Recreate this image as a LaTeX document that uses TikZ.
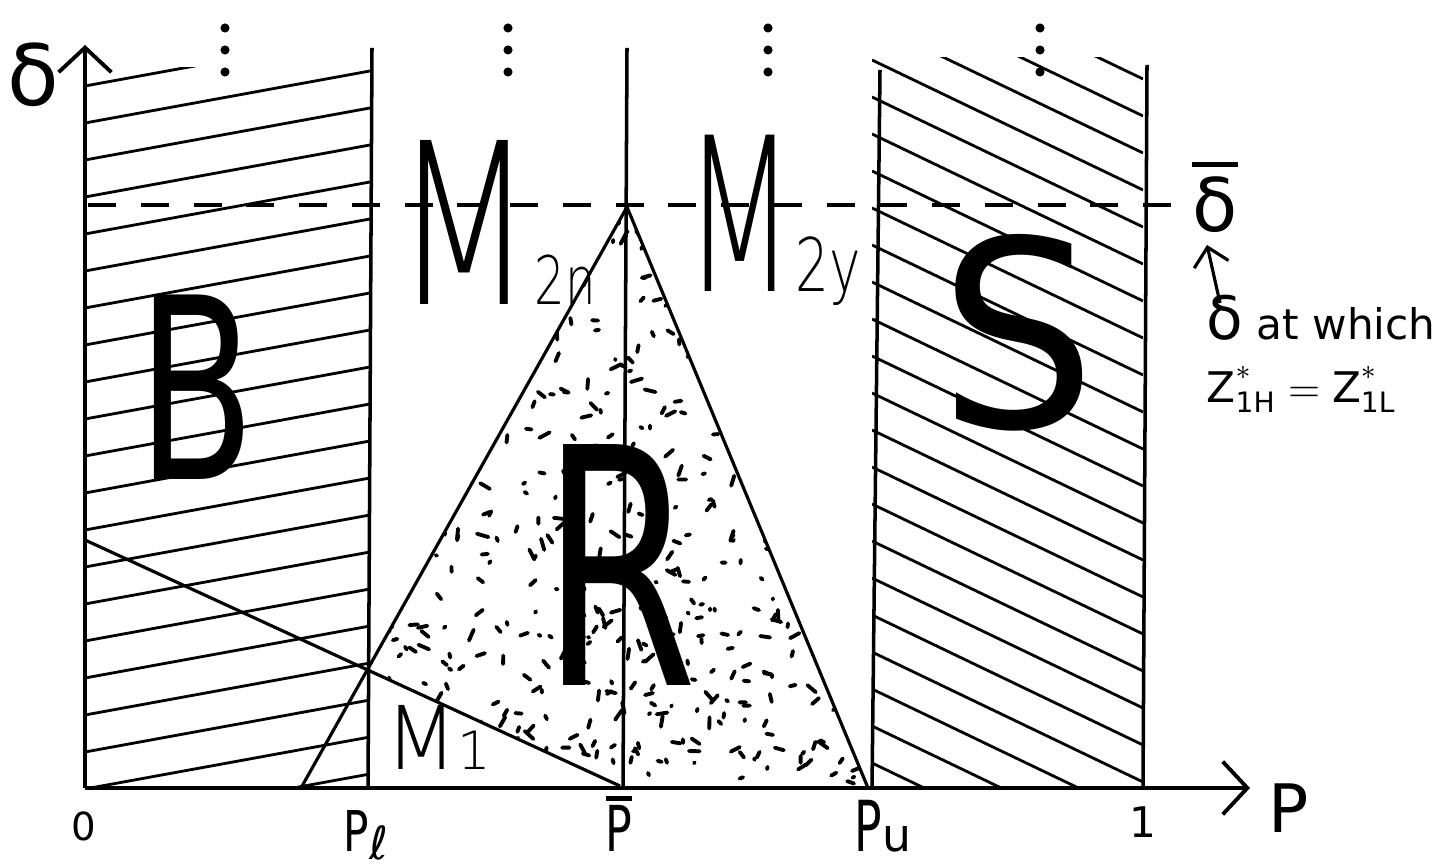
\documentclass[tikz,border=0pt]{standalone}
\usepackage{fontspec}
\setmainfont{DejaVu Sans}
\newfontfamily\thinfont{DejaVuSans-ExtraLight.ttf}
\usetikzlibrary{arrows.meta}
\newcommand{\narrow}[2]{\scalebox{#1}[1]{#2}}
\newcommand{\barred}[2][3pt]{\vbox{\hrule height 1.2pt\kern #1\hbox{#2}}}
\begin{document}
\begin{tikzpicture}[x=0.01cm,y=-0.01cm,>={Straight Barb[length=7pt,width=15pt]}]
\tikzset{ax/.style={line width=1.1pt},wall/.style={line width=1pt},hatch/.style={line width=0.8pt},
  edge/.style={line width=0.9pt},speck/.style={line width=1.1pt,line cap=round},
  lab/.style={inner sep=0pt,font=\fontsize{15}{15}\selectfont},
  big/.style={inner sep=0pt,font=\fontsize{72}{72}\selectfont},
  em/.style={inner sep=0pt,anchor=base west,font=\thinfont\fontsize{64}{64}\selectfont}}
\useasboundingbox (0,0) rectangle (1443,865);
\coordinate (O) at (85,788);
\coordinate (ytip) at (85,45);
\coordinate (xtip) at (1250,788);
\coordinate (pl) at (368,788); \coordinate (pltop) at (372,48);
\coordinate (pb) at (623,788); \coordinate (pbtop) at (627,48);
\coordinate (pu) at (872,788); \coordinate (putop) at (880,70);
\coordinate (one) at (1143,788); \coordinate (onetop) at (1147,65);
\coordinate (apex) at (627,207);
\coordinate (kink) at (368,668);
\coordinate (lfoot) at (301,788);
\coordinate (rfoot) at (868,788);
\coordinate (m1a) at (85,540);
\coordinate (m1b) at (620,786);
\coordinate (dl) at (88,205); \coordinate (dr) at (1185,205);
\coordinate (atail) at (1220,303); \coordinate (ahead) at (1207,245);
\begin{scope}
\clip (85,68) rectangle (370,788);
\foreach \y in {86,123,...,900} \draw[hatch] (85,\y) -- (370,\y-52);
\end{scope}
\begin{scope}
\clip (872,58) rectangle (1143,788);
\foreach \y in {-88,-51,...,800} \draw[hatch] (872,\y) -- (1143,\y+130);
\end{scope}
\begin{scope}
\clip (apex) -- (kink) -- (m1b) -- (rfoot) -- cycle;
\pgfmathsetseed{3}
\foreach \i in {1,...,600}{
  \pgfmathsetmacro\sx{368+500*rnd}
  \pgfmathsetmacro\sy{207+580*rnd}
  \pgfmathsetmacro\sa{360*rnd}
  \pgfmathsetmacro\sl{1+11*rnd}
  \draw[speck] (\sx,\sy) -- ++(\sa:\sl);
}
\end{scope}
\draw[edge] (apex) -- (lfoot);
\draw[edge] (apex) -- (rfoot);
\draw[edge] (m1a) -- (m1b);
\draw[wall] (pl) -- (pltop);
\draw[wall] (pb) -- (pbtop);
\draw[wall] (pu) -- (putop);
\draw[wall] (one) -- (onetop);
\draw[wall,dash pattern=on 8pt off 7pt] (dl) -- (dr);
\draw[ax,->] (O) -- (ytip);
\draw[ax,->] (O) -- (xtip);
\draw[edge,-{Straight Barb[length=5pt,width=10pt]}] (atail) -- (ahead);
\foreach \x in {225,508,768,1040} \foreach \y in {28,50,72} \fill (\x,\y) circle[radius=1.3pt];
\node[big] (lb) at (197,387) {\narrow{0.68}{B}};
\node[big,font=\fontsize{94}{94}\selectfont] (lr) at (620,565) {\narrow{0.68}{R}};
\node[big,font=\fontsize{74}{74}\selectfont] (ls) at (1018,333) {\narrow{0.95}{S}};
\node[em] (m2n) at (394,305)
  {\narrow{0.72}{M}{\fontsize{19}{19}\selectfont\narrow{0.72}{2n}}};
\node[em,font=\thinfont\fontsize{61}{61}\selectfont] (m2y) at (684,292)
  {\narrow{0.6}{M}{\fontsize{21}{21}\selectfont\narrow{0.72}{2y}}};
\node[em,font=\thinfont\fontsize{25}{25}\selectfont] (m1) at (385,770)
  {\narrow{0.95}{M}{\fontsize{15}{15}\selectfont 1}};
\node[lab,font=\fontsize{11}{11}\selectfont] (l0) at (84,826) {0};
\node[lab,font=\fontsize{16}{16}\selectfont,anchor=base west] (lpl) at (343,852)
  {\narrow{0.75}{P}\raisebox{-2pt}{\fontsize{13}{13}\selectfont ℓ}};
\node[lab,font=\fontsize{18}{18}\selectfont,anchor=base] (lpb) at (619,852) {\barred[1.5pt]{\narrow{0.7}{P}}};
\node[lab,font=\fontsize{20}{20}\selectfont,anchor=base west] (lpu) at (854,852)
  {\narrow{0.65}{P}{\fontsize{13}{13}\selectfont u}};
\node[lab,font=\fontsize{12}{12}\selectfont] (l1) at (1143,822) {1};
\node[lab,font=\fontsize{19}{19}\selectfont,anchor=base west] (lp) at (1268,833) {P};
\node[lab,font=\fontsize{24}{24}\selectfont] (ld) at (33,75) {δ};
\node[lab,font=\fontsize{21}{21}\selectfont,anchor=base] (ldb) at (1215,232) {\barred{δ}};
\node[lab,font=\fontsize{12}{14}\selectfont,anchor=north west,align=left] (note) at (1206,294)
  {{\fontsize{17}{17}\selectfont δ} at which\\[4pt]$\mathrm{Z}^{\ast}_{\mathrm{1H}}=\mathrm{Z}^{\ast}_{\mathrm{1L}}$};
\end{tikzpicture}
\end{document}
